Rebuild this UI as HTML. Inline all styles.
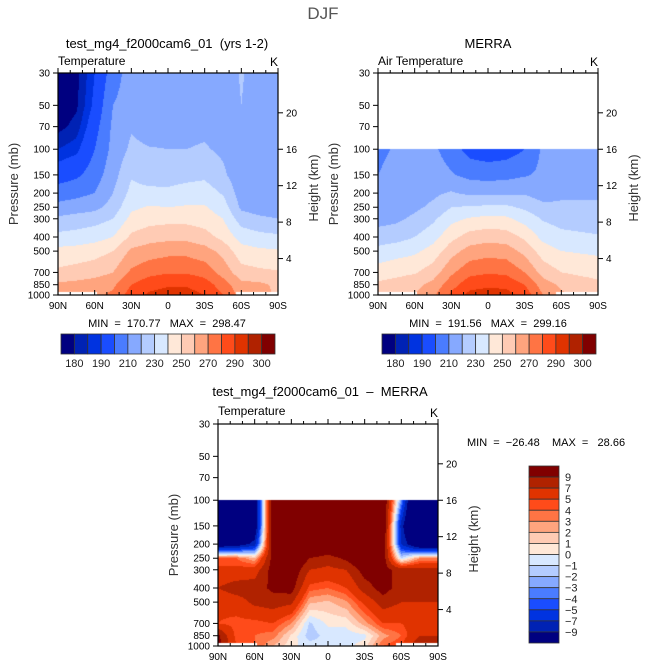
<!DOCTYPE html>
<html><head><meta charset="utf-8">
<style>
body{margin:0;background:#fff;width:646px;height:669px;overflow:hidden;position:relative;font-family:"Liberation Sans",sans-serif;}
canvas{position:absolute;}
svg{position:absolute;left:0;top:0;}
svg text{white-space:pre;}
</style></head>
<body>
<canvas id="c1" width="220" height="222" style="left:58px;top:73px"></canvas>
<canvas id="c2" width="220" height="222" style="left:378px;top:73px"></canvas>
<canvas id="c3" width="220" height="222" style="left:218px;top:424px"></canvas>
<svg id="s" width="646" height="669"></svg>
<script>
const LEVELS=[30,50,70,100,150,200,250,300,400,500,700,850,1000];
const LEVELS_LOW=[100,150,200,250,300,400,500,700,850,1000];
const LATS=[90,75,60,45,30,15,0,-15,-30,-45,-60,-75,-90];
const modelT=[
[175,175,178,185,195,205,213,222,233,243,252,262,262],
[178,179,182,188,198,207,215,224,234,244,254,263,265],
[190,192,196,200,205,210,217,226,236,246,256,265,268],
[205,210,212,213,216,220,224,230,240,250,260,268,272],
[215,215,219,222,229,233,238,243,252,262,272,280,285],
[215,214,216,220.5,225,233,241,246,256,265,277,286,292],
[214,215,217,220,226,232,240,247,257,267,279,289,294],
[214,215,217,220,227,234,241,247,257,267,279,289,294],
[215,215,218,221,228,235,241,245,254,264,276,285,290],
[214,214,215,218,222,229,235,240,247,257,266,275,280],
[221,220,216,212,213,215,218,225,236,244,254,263,266],
[215,214,212,211,211,212,215,222,233,242,252,262,264],
[214,213,212,211,211,212,214,220,232,241,251,258,258]];
const merraT=[
[208,210,213,215,216,225,233,245,252,255],
[211,213,214,216,218,226,236,247,254,257],
[213,215,216,218,222,230,238,249,257,260],
[212,215,218,222,228,236,244,255,263,268],
[205,211,221,230,237,247,256,268,276,282],
[196,207,218,231,241,254,264,277,286,293],
[194,206,218,232,243,256,266,279,288,295],
[195,207,218,232,242,255,265,278,287,294],
[200,209,219,228,236,248,257,270,280,286],
[212,212,215,223,229,237,245,256,265,270],
[216,217,219,221,226,233,240,250,258,262],
[217,218,219,221,225,232,239,248,255,257],
[217,218,219,221,224,231,238,247,252,252]];
const diffT=[
[-20,-18,-12,4,5.5,7,5.5,5,9.5,10],
[-20,-18,-11,4,5.5,8,6,4.5,4.5,5],
[-12,-12,-8,2,6,8,7.5,4.5,4,4],
[12,12,11,10,10,9.5,8,5,3.5,2],
[15,15,14,12,11,10,7.5,3,0.8,0.3],
[15,15,13,9,7,4.5,2.2,-1.2,-1.6,-0.5],
[15,15,12,8,6.5,4,1.8,0.2,-0.5,-0.5],
[15,15,13,9.5,7,5,2.8,0.3,-0.6,-0.3],
[15,15,14,12,10,8,5.5,2.5,-0.3,0.5],
[12,12,11,10.5,10,10,8,5,2.5,4],
[-3,-8,-7,-1,8,8,7,5,4,5],
[-20,-18,-13,3,7.5,7.5,7,6,7,9],
[-20,-18,-13,3,7.5,7.5,7,6,7,9]];
const tempThresh=[180,185,190,200,210,220,230,240,250,260,270,280,290,295,300];
const diffThresh=[-9,-7,-5,-4,-3,-2,-1,0,1,2,3,4,5,7,9];
const tempTickLabels=["180","190","210","230","250","270","290","300"];
const tempTickIdx=[0,2,4,6,8,10,12,14];
const diffTickLabels=["-9","-7","-5","-4","-3","-2","-1","0","1","2","3","4","5","7","9"];
const pTicks=[30,50,70,100,150,200,250,300,400,500,700,850,1000];
const zTicks=[4,8,12,16,20];
const latTickLabels=["90N","60N","30N","0","30S","60S","90S"];
const COLORS=["#000080","#0022b4","#0033e0","#1a4dff","#4a7cff","#86a9ff","#b4ccff","#d8e8ff","#ffe8d8","#ffcbb4","#ffa47e","#ff7444","#ff4b1a","#e03300","#b02200","#800000"];
const W=220,H=222;
const yOfP=p=>Math.log(p/30)/Math.log(1000/30)*H;
const xOfLat=l=>(90-l)/180*W;
function interp(field,levels,lat,p){
  if(p<levels[0]) return null;
  let fi=(90-lat)/15; let i0=Math.min(11,Math.floor(fi)); let fx=fi-i0;
  let lp=Math.log(p); let j0=0;
  while(j0<levels.length-2 && Math.log(levels[j0+1])<lp) j0++;
  let fy=(lp-Math.log(levels[j0]))/(Math.log(levels[j0+1])-Math.log(levels[j0]));
  fy=Math.max(0,Math.min(1,fy));
  const a=field[i0][j0],b=field[i0+1][j0],c=field[i0][j0+1],d=field[i0+1][j0+1];
  return (a*(1-fx)+b*fx)*(1-fy)+(c*(1-fx)+d*fx)*fy;
}
function colorIdx(v,th){let k=0;while(k<th.length&&v>=th[k])k++;return k;}
function fill(id,field,levels,th){
  const ctx=document.getElementById(id).getContext('2d');
  for(let py=0;py<H;py++){
    const p=30*Math.pow(1000/30,(py+0.5)/H);
    for(let px=0;px<W;px++){
      const lat=90-(px+0.5)/W*180;
      if(p>955&&(lat>58||lat<-56)) continue;
      const v=interp(field,levels,lat,p);
      if(v===null) continue;
      ctx.fillStyle=COLORS[colorIdx(v,th)];
      ctx.fillRect(px,py,1,1);
    }
  }
}
fill('c1',modelT,LEVELS,tempThresh);
fill('c2',merraT,LEVELS_LOW,tempThresh);
fill('c3',diffT,LEVELS_LOW,diffThresh);

const S=document.getElementById('s');const NS='http://www.w3.org/2000/svg';
function mk(tag,attrs,name,txt){const e=document.createElementNS(NS,tag);for(const k in attrs)e.setAttribute(k,attrs[k]);


if(txt!==undefined)e.textContent=txt;S.appendChild(e);return e;}
function txt(x,y,s,size,anchor,name,extra){const a={x:x,y:y,'font-size':size,'text-anchor':anchor||'middle',fill:'#000','font-family':'Liberation Sans, sans-serif'};if(extra)Object.assign(a,extra);return mk('text',a,name,s);}
function axes(X,Y,pre){
  mk('rect',{x:X,y:Y,width:W,height:H,fill:'none',stroke:'#000','stroke-width':1.2},pre+'-frame');
  pTicks.forEach(p=>{const y=Y+yOfP(p);
    mk('line',{x1:X-5,x2:X,y1:y,y2:y,stroke:'#000'},pre+'-pressure-tick');
    txt(X-8,y+3.5,String(p),10,'end',pre+'-pressure-label');});
  zTicks.forEach(z=>{const p=1000*Math.exp(-z/6.95);const y=Y+yOfP(p);
    mk('line',{x1:X+W,x2:X+W+5,y1:y,y2:y,stroke:'#000'},pre+'-height-tick');
    txt(X+W+8,y+3.5,String(z),10,'start',pre+'-height-label');});
  for(let l=90;l>=-90;l-=10){const x=X+xOfLat(l);const maj=(l%30===0);const len=maj?5:3;
    mk('line',{x1:x,x2:x,y1:Y+H,y2:Y+H-len,stroke:'#000'},pre+'-lat-tick');
    mk('line',{x1:x,x2:x,y1:Y,y2:Y-len,stroke:'#000'},pre+'-lat-tick-top');}
  latTickLabels.forEach((s,i)=>txt(X+xOfLat(90-i*30),Y+H+14,s,10,'middle',pre+'-lat-label'));
  txt(X-40,Y+H/2,'Pressure (mb)',13,'middle',pre+'-y-axis-title',{transform:`rotate(-90 ${X-40} ${Y+H/2})`,fill:'#333'});
  txt(X+W+40,Y+H/2+4,'Height (km)',13,'middle',pre+'-right-axis-title',{transform:`rotate(-90 ${X+W+40} ${Y+H/2+4})`,fill:'#333'});
  txt(X+W,Y-7,'K',12,'end',pre+'-units');
}
function hbar(X,Y,w,h,pre){const bw=w/16;
  COLORS.forEach((c,i)=>mk('rect',{x:X+i*bw,y:Y,width:bw,height:h,fill:c,stroke:'#333','stroke-width':0.8},pre+'-colorbar-box'));
  tempTickIdx.forEach((k,i)=>txt(X+(k+1)*bw,Y+h+13,tempTickLabels[i],11,'middle',pre+'-colorbar-label',{fill:'#222'}));}
txt(323,19,'DJF',17,'middle','figure-title',{fill:'#555'});
axes(58,73,'model');
txt(167,48,'test_mg4_f2000cam6_01  (yrs 1-2)',13,'middle','model-title');
txt(58,65,'Temperature',12,'start','model-variable');
txt(167,327,'MIN  =  170.77   MAX  =  298.47',11,'middle','model-minmax');
hbar(61,334,214,20,'model');
axes(378,73,'merra');
txt(488,48,'MERRA',13,'middle','merra-title');
txt(378,65,'Air Temperature',12,'start','merra-variable');
txt(488,327,'MIN  =  191.56   MAX  =  299.16',11,'middle','merra-minmax');
hbar(382,334,214,20,'merra');
axes(218,424,'diff');
txt(320,396,'test_mg4_f2000cam6_01  –  MERRA',13,'middle','diff-title');
txt(218,415,'Temperature',12,'start','diff-variable');
txt(467,446,'MIN  =  −26.48    MAX  =   28.66',11,'start','diff-minmax');
(function(){const X=529,Y=466,w=30,h=177,bh=h/16;
  for(let i=0;i<16;i++) mk('rect',{x:X,y:Y+i*bh,width:w,height:bh,fill:COLORS[15-i],stroke:'#333','stroke-width':0.8},'diff-colorbar-box');
  for(let i=0;i<15;i++) txt(X+w+6,Y+(i+1)*bh+4,diffTickLabels[14-i].replace('-','−'),11,'start','diff-colorbar-label',{fill:'#222'});
})();
</script>
</body></html>
